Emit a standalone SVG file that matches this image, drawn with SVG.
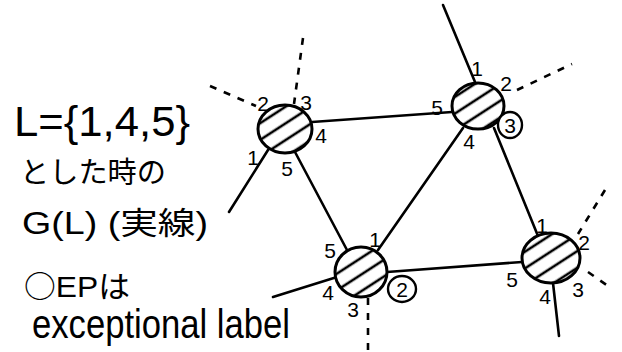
<svg xmlns="http://www.w3.org/2000/svg" width="622" height="352" viewBox="0 0 622 352">
<style>
.e{stroke:#000;stroke-width:2.6;fill:none;stroke-linecap:round}
.d{stroke:#000;stroke-width:2.6;fill:none;stroke-dasharray:7 8}
.n{stroke:#000;stroke-width:3;fill:url(#hatch)}
.c{stroke:#000;stroke-width:2.4;fill:#fff}
.l{font-family:"Liberation Sans","Noto Sans CJK JP",sans-serif;font-size:21px;fill:#000;text-anchor:middle;dominant-baseline:central}
.t{font-family:"Liberation Sans","Noto Sans CJK JP",sans-serif;fill:#000}
</style>
<defs>
<pattern id="hatch" patternUnits="userSpaceOnUse" width="14" height="14" patternTransform="rotate(-33)">
<rect width="14" height="14" fill="#fff"/>
<line x1="0" y1="7" x2="14" y2="7" stroke="#000" stroke-width="2.6"/>
</pattern>
</defs>
<rect width="622" height="352" fill="#fff"/>
<g id="connectors">
<line class="e" x1="312" y1="122" x2="452" y2="112"/>
<line class="e" x1="295" y1="152" x2="347" y2="250"/>
<line class="e" x1="463" y1="128" x2="378" y2="250"/>
<line class="e" x1="494" y1="128" x2="538" y2="236"/>
<line class="e" x1="387" y1="272" x2="522" y2="262"/>
<line class="e" x1="268" y1="150" x2="229" y2="212"/>
<line class="e" x1="273" y1="297" x2="337" y2="277"/>
<line class="e" x1="443" y1="5" x2="475" y2="82"/>
<line class="e" x1="553" y1="283" x2="559" y2="336"/>
<line class="d" x1="210" y1="86" x2="256" y2="106"/>
<line class="d" x1="303" y1="38" x2="294" y2="104"/>
<line class="d" x1="368" y1="298" x2="368" y2="350"/>
<line class="d" x1="517" y1="90" x2="572" y2="64"/>
<line class="d" x1="605" y1="190" x2="578" y2="234"/>
<line class="d" x1="588" y1="272" x2="608" y2="286"/>
</g>
<g id="nodeA">
<ellipse class="n" cx="285" cy="129" rx="27" ry="24"/>
<text class="l" x="263" y="103">2</text>
<text class="l" x="306" y="102">3</text>
<text class="l" x="321" y="135">4</text>
<text class="l" x="253" y="157">1</text>
<text class="l" x="287" y="168">5</text>
</g>
<g id="nodeB">
<ellipse class="n" cx="478" cy="106" rx="26" ry="23"/>
<text class="l" x="477" y="68">1</text>
<text class="l" x="506" y="83">2</text>
<ellipse class="c" cx="510" cy="125" rx="12" ry="13"/>
<text class="l" x="510" y="125">3</text>
<text class="l" x="469" y="141">4</text>
<text class="l" x="437" y="107">5</text>
</g>
<g id="nodeC">
<ellipse class="n" cx="361" cy="272" rx="26" ry="25"/>
<text class="l" x="375" y="239">1</text>
<ellipse class="c" cx="402" cy="289" rx="14" ry="13"/>
<text class="l" x="402" y="289">2</text>
<text class="l" x="353" y="309">3</text>
<text class="l" x="328" y="292">4</text>
<text class="l" x="330" y="250">5</text>
</g>
<g id="nodeD">
<ellipse class="n" cx="551" cy="258" rx="29" ry="25"/>
<text class="l" x="542" y="225">1</text>
<text class="l" x="584" y="242">2</text>
<text class="l" x="578" y="289">3</text>
<text class="l" x="545" y="296">4</text>
<text class="l" x="512" y="279">5</text>
</g>
<g id="caption">
<text class="t" x="14" y="136" font-size="42" textLength="176" lengthAdjust="spacingAndGlyphs">L={1,4,5}</text>
<text class="t" x="20" y="183" font-size="29" textLength="146" lengthAdjust="spacingAndGlyphs">とした時の</text>
<text class="t" x="22" y="234" font-size="31" textLength="186" lengthAdjust="spacingAndGlyphs">G(L) (実線)</text>
<text class="t" x="24" y="297" font-size="30" textLength="106" lengthAdjust="spacingAndGlyphs"><tspan font-family="Noto Sans CJK JP, sans-serif">○</tspan>EPは</text>
<text class="t" x="32" y="338" font-size="40" textLength="258" lengthAdjust="spacingAndGlyphs">exceptional label</text>
</g>
</svg>
